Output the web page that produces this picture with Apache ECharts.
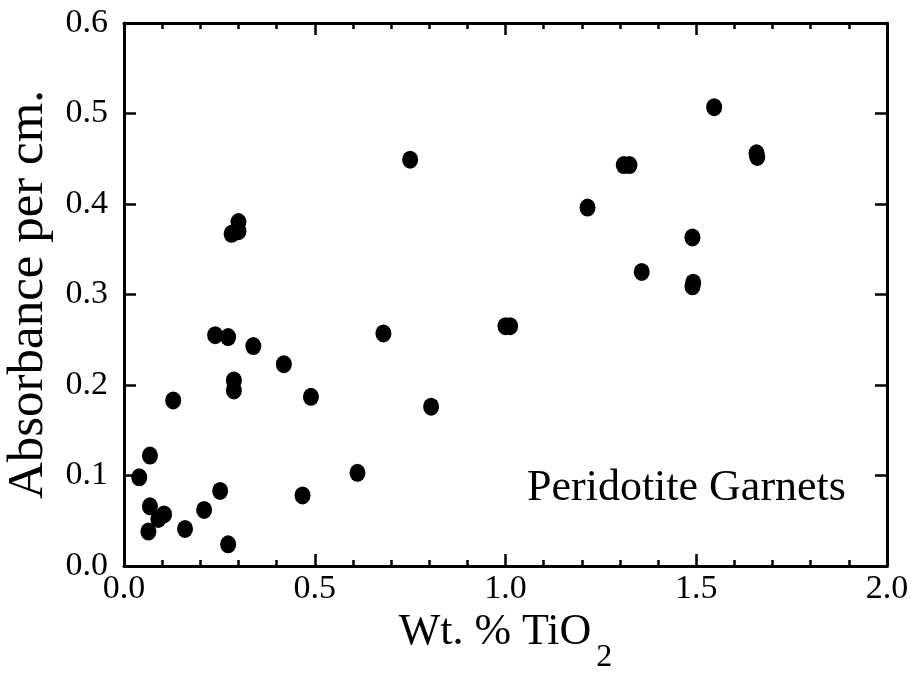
<!DOCTYPE html>
<html>
<head>
<meta charset="utf-8">
<script src="https://cdn.jsdelivr.net/npm/echarts@6/dist/echarts.min.js"></script>
<style>html,body{margin:0;padding:0;background:#fff;}#c{width:916px;height:673px;}</style>
</head>
<body>
<div id="c"></div>
<script>
const tio2 = [0.239,0.273,0.339,0.419,0.288,0.288,0.129,0.490,0.680,0.805,1.000,1.012,0.068,0.040,0.612,0.252,0.468,0.068,0.090,0.105,0.064,0.160,0.210,0.273,0.750,0.300,0.282,0.300,1.547,1.658,1.660,1.310,1.325,1.215,1.490,1.357,1.490,1.492];
const absorbance = [0.255,0.253,0.243,0.223,0.205,0.194,0.183,0.187,0.257,0.176,0.265,0.265,0.122,0.098,0.103,0.083,0.078,0.066,0.052,0.057,0.038,0.041,0.062,0.024,0.449,0.380,0.367,0.370,0.507,0.456,0.452,0.443,0.443,0.396,0.363,0.325,0.309,0.313];
const xTicks = ['0.0','0.5','1.0','1.5','2.0'];
const yTicks = ['0.0','0.1','0.2','0.3','0.4','0.5','0.6'];
const xTitle = '{m|Wt. % TiO}{sub|2}';
const yTitle = 'Absorbance per cm.';
const annotation = 'Peridotite Garnets';

const font = 'Liberation Serif';
const chart = echarts.init(document.getElementById('c'), null, {renderer:'canvas'});
const pts = tio2.map((x,i)=>[x, absorbance[i]]);
const axisLine = {show:true, onZero:false, lineStyle:{color:'#000', width:3}};
const tick = {show:true, inside:true, length:12, lineStyle:{color:'#000', width:2.5}};
const minor = {show:true, splitNumber:5, length:6, lineStyle:{color:'#000', width:2.5}};
chart.setOption({
  animation:false,
  backgroundColor:'#fff',
  grid:{left:124, right:29, top:23, bottom:107, containLabel:false, outerBoundsMode:'none'},
  xAxis:[{
    type:'value', min:0, max:2, interval:0.5, position:'bottom',
    axisLine:axisLine, axisTick:tick, minorTick:minor,
    splitLine:{show:false},
    axisLabel:{color:'#000', fontFamily:font, fontSize:34, margin:6, formatter:(v)=>xTicks[Math.round(v*2)]},
    name:xTitle, nameLocation:'middle', nameGap:36,
    nameTextStyle:{color:'#000', fontFamily:font, fontSize:44,
      rich:{m:{fontFamily:font, fontSize:44, color:'#000', verticalAlign:'top'},
            sub:{fontFamily:font, fontSize:32, color:'#000', verticalAlign:'top', padding:[31,0,0,5]}}}
  },{
    type:'value', min:0, max:2, interval:0.5, position:'top',
    axisLine:axisLine, axisTick:tick, minorTick:minor,
    splitLine:{show:false}, axisLabel:{show:false}
  }],
  yAxis:[{
    type:'value', min:0, max:0.6, interval:0.1, position:'left',
    axisLine:axisLine, axisTick:tick,
    splitLine:{show:false},
    axisLabel:{color:'#000', fontFamily:font, fontSize:34, margin:16, formatter:(v)=>yTicks[Math.round(v*10)]},
    name:yTitle, nameLocation:'middle', nameGap:64, nameRotate:90,
    nameTextStyle:{color:'#000', fontFamily:font, fontSize:51}
  },{
    type:'value', min:0, max:0.6, interval:0.1, position:'right',
    axisLine:axisLine, axisTick:tick,
    splitLine:{show:false}, axisLabel:{show:false}
  }],
  graphic:[{
    type:'text', left:527, top:466,
    style:{text:annotation, fill:'#000', font:'44px "Liberation Serif"'}
  }],
  series:[{
    type:'scatter', xAxisIndex:0, yAxisIndex:0,
    data:pts, symbol:'circle', symbolSize:[16,18],
    itemStyle:{color:'#000', opacity:1}
  }]
});
</script>
</body>
</html>
